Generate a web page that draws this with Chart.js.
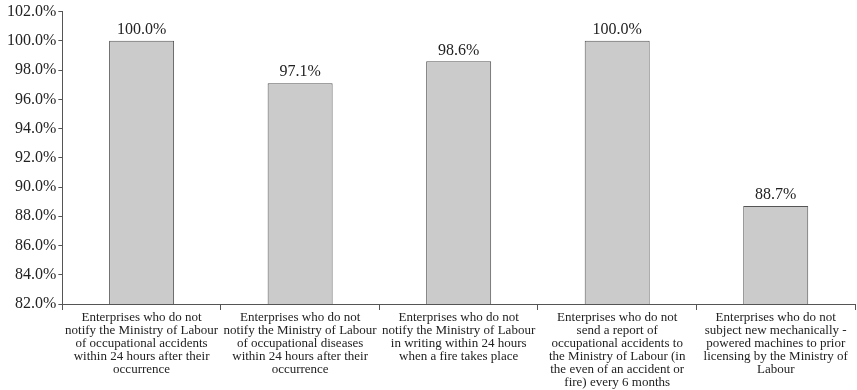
<!DOCTYPE html>
<html>
<head>
<meta charset="utf-8">
<script src="https://cdn.jsdelivr.net/npm/chart.js@4"></script>
<style>
  html, body { margin: 0; padding: 0; background: #fff; }
  #wrap { width: 857px; height: 390px; }
</style>
</head>
<body>
<div id="wrap"><canvas id="chart"></canvas></div>
<script>
const categories = [
  ['Enterprises who do not', 'notify the Ministry of Labour', 'of occupational accidents', 'within 24 hours after their', 'occurrence'],
  ['Enterprises who do not', 'notify the Ministry of Labour', 'of occupational diseases', 'within 24 hours after their', 'occurrence'],
  ['Enterprises who do not', 'notify the Ministry of Labour', 'in writing within 24 hours', 'when a fire takes place'],
  ['Enterprises who do not', 'send a report of', 'occupational accidents to', 'the Ministry of Labour (in', 'the even of an accident or', 'fire) every 6 months'],
  ['Enterprises who do not', 'subject new mechanically -', 'powered machines to prior', 'licensing by the Ministry of', 'Labour']
];
const values = [100.0, 97.1, 98.6, 100.0, 88.7];
const yMin = 82, yMax = 102, yStep = 2;

const serif = '"Liberation Serif", "DejaVu Serif", serif';

// value labels above the bars
const barLabels = {
  id: 'barLabels',
  afterDatasetsDraw(chart) {
    const ctx = chart.ctx;
    const meta = chart.getDatasetMeta(0);
    ctx.save();
    ctx.font = '16px ' + serif;
    ctx.fillStyle = '#222';
    ctx.textAlign = 'center';
    ctx.textBaseline = 'bottom';
    meta.data.forEach((bar, i) => {
      ctx.fillText(values[i].toFixed(1) + '%', bar.x, bar.y - 3);
    });
    ctx.restore();
  }
};

new Chart(document.getElementById('chart'), {
  type: 'bar',
  data: {
    labels: categories,
    datasets: [{
      data: values,
      backgroundColor: '#cbcbcb',
      borderColor: '#555',
      borderWidth: 1,
      barPercentage: 0.41,
      categoryPercentage: 1.0
    }]
  },
  options: {
    responsive: true,
    maintainAspectRatio: false,
    animation: false,
    layout: { padding: { top: 5, right: 2, left: 5, bottom: 0 } },
    plugins: {
      legend: { display: false },
      tooltip: { enabled: false }
    },
    scales: {
      x: {
        grid: { display: true, drawOnChartArea: false, drawTicks: true, tickLength: 6, color: '#555', offset: true },
        border: { display: true, color: '#555', width: 1 },
        ticks: {
          color: '#222',
          maxRotation: 0,
          autoSkip: false,
          padding: 1,
          font: { family: serif, size: 13, lineHeight: 1.0 }
        }
      },
      y: {
        min: yMin,
        max: yMax,
        grid: { display: true, drawOnChartArea: false, drawTicks: true, tickLength: 4, color: '#555' },
        border: { display: true, color: '#555', width: 1 },
        ticks: {
          stepSize: yStep,
          color: '#222',
          padding: 2,
          font: { family: serif, size: 16 },
          callback: v => v.toFixed(1) + '%'
        }
      }
    }
  },
  plugins: [barLabels]
});
</script>
</body>
</html>
